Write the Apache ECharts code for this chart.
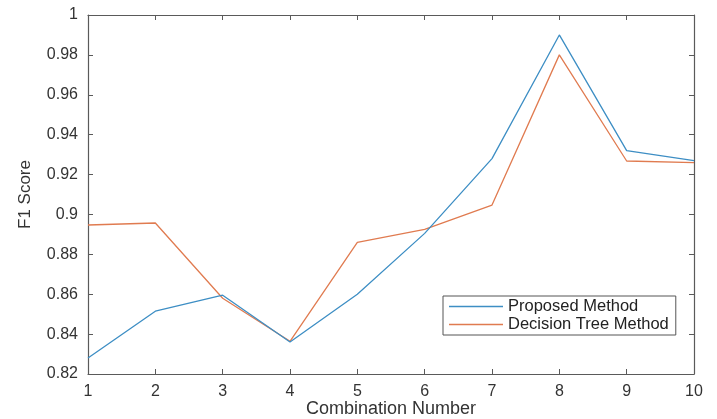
<!DOCTYPE html>
<html>
<head>
<meta charset="utf-8">
<script src="https://cdn.jsdelivr.net/npm/echarts@6/dist/echarts.min.js"></script>
<style>html,body{margin:0;padding:0;background:#fff;}#c{width:717px;height:419px;}</style>
</head>
<body>
<div id="c"></div>
<script>
var combos = [1, 2, 3, 4, 5, 6, 7, 8, 9, 10];
var proposed = [0.828, 0.8515, 0.8595, 0.836, 0.860, 0.8905, 0.928, 0.990, 0.932, 0.927];
var decisionTree = [0.8947, 0.8957, 0.858, 0.8364, 0.886, 0.8925, 0.9047, 0.980, 0.9268, 0.926];
var seriesNames = ['Proposed Method', 'Decision Tree Method'];
var colors = ['#3d8ec4', '#e07b50'];

var font = 'Liberation Sans, Arial, sans-serif';
var axisColor = '#5a5a5a';
var textColor = '#333';

function pair(xs, ys) { return xs.map(function (x, i) { return [x, ys[i]]; }); }
function fmt(v) { return String(parseFloat(v.toFixed(2))); }

var chart = echarts.init(document.getElementById('c'));
chart.setOption({
  animation: false,
  backgroundColor: '#fff',
  grid: { left: 88, right: 23, top: 15, bottom: 45, containLabel: false, outerBoundsMode: 'none' },
  xAxis: [{
    type: 'value', min: 1, max: 10, interval: 1,
    name: 'Combination Number', nameLocation: 'middle', nameGap: 26, nameMoveOverlap: false,
    nameTextStyle: { fontFamily: font, fontSize: 18, color: textColor },
    axisLine: { lineStyle: { color: axisColor, width: 1.2 } },
    axisTick: { inside: true, length: 5, lineStyle: { color: axisColor } },
    axisLabel: { fontFamily: font, fontSize: 16, color: textColor, margin: 10, formatter: fmt },
    splitLine: { show: false }
  }, {
    type: 'value', position: 'top', min: 1, max: 10, interval: 1,
    axisLine: { onZero: false, lineStyle: { color: axisColor, width: 1.2 } },
    axisTick: { inside: true, length: 5, lineStyle: { color: axisColor } },
    axisLabel: { show: false }, splitLine: { show: false }
  }],
  yAxis: [{
    type: 'value', min: 0.82, max: 1, interval: 0.02,
    name: 'F1 Score', nameLocation: 'middle', nameGap: 54,
    nameTextStyle: { fontFamily: font, fontSize: 17, color: textColor },
    axisLine: { show: true, lineStyle: { color: axisColor, width: 1.2 } },
    axisTick: { show: true, inside: true, length: 5, lineStyle: { color: axisColor } },
    axisLabel: { fontFamily: font, fontSize: 16, color: textColor, margin: 10, formatter: fmt },
    splitLine: { show: false }
  }, {
    type: 'value', position: 'right', min: 0.82, max: 1, interval: 0.02,
    axisLine: { show: true, onZero: false, lineStyle: { color: axisColor, width: 1.2 } },
    axisTick: { show: true, inside: true, length: 5, lineStyle: { color: axisColor } },
    axisLabel: { show: false }, splitLine: { show: false }
  }],
  legend: {
    left: 443, top: 296, orient: 'vertical',
    data: seriesNames,
    backgroundColor: '#fff',
    borderColor: '#555', borderWidth: 1,
    padding: [2, 7, 2, 6],
    itemGap: 1,
    itemWidth: 54, itemHeight: 1.5,
    icon: 'rect',
    textStyle: { fontFamily: font, fontSize: 16.5, color: '#222' }
  },
  series: [{
    name: seriesNames[0], type: 'line', data: pair(combos, proposed),
    symbol: 'none', color: colors[0], lineStyle: { width: 1.3, color: colors[0] }, z: 3
  }, {
    name: seriesNames[1], type: 'line', data: pair(combos, decisionTree),
    symbol: 'none', color: colors[1], lineStyle: { width: 1.3, color: colors[1] }, z: 2
  }]
});
</script>
</body>
</html>
